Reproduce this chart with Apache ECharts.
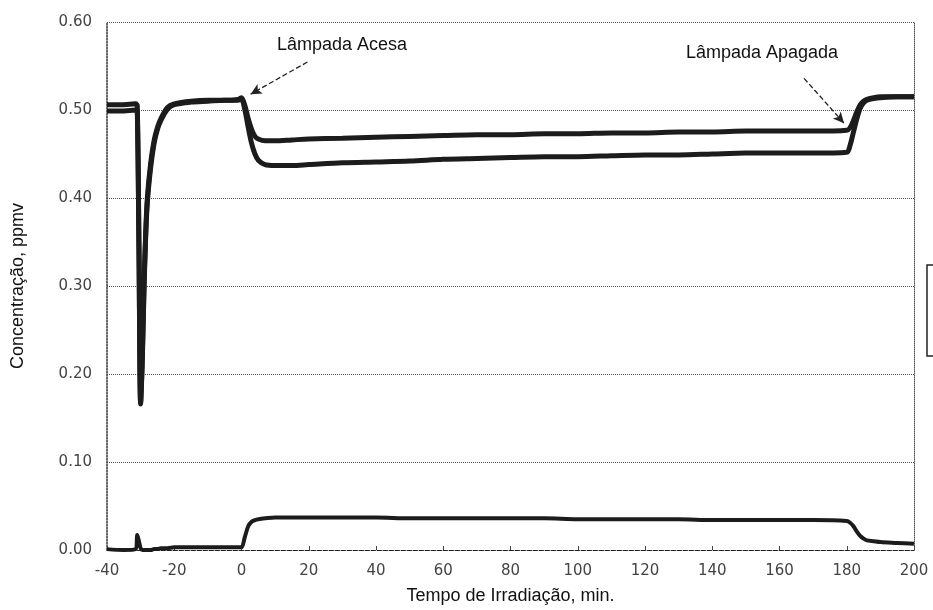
<!DOCTYPE html>
<html><head><meta charset="utf-8">
<script src="https://cdn.jsdelivr.net/npm/echarts@6/dist/echarts.min.js"></script>
<style>html,body{margin:0;padding:0;background:#fff}#c{width:933px;height:610px}</style>
</head><body><div id="c"></div>
<script>
const times = [-40,-35,-31.5,-31,-30.5,-30,-29.5,-29,-28.5,-28,-27,-26,-25,-24,-22,-20,-15,-10,-5,-1,0,1,2,3,4,5,7,10,15,20,30,40,50,60,70,80,90,100,110,120,130,140,150,160,170,180,181,182,183,184,185,186,188,190,195,200];
const upper = [0.506,0.506,0.507,0.505,0.35,0.168,0.22,0.30,0.36,0.40,0.44,0.465,0.48,0.49,0.503,0.507,0.510,0.511,0.511,0.512,0.514,0.505,0.49,0.478,0.470,0.467,0.465,0.465,0.466,0.467,0.468,0.469,0.470,0.471,0.472,0.472,0.473,0.473,0.474,0.474,0.475,0.475,0.476,0.476,0.476,0.477,0.480,0.488,0.498,0.506,0.510,0.512,0.514,0.515,0.515,0.515];
const lower = [0.499,0.499,0.500,0.499,0.34,0.166,0.215,0.295,0.355,0.395,0.435,0.462,0.478,0.488,0.501,0.506,0.509,0.510,0.511,0.511,0.512,0.500,0.480,0.462,0.450,0.443,0.438,0.437,0.437,0.438,0.440,0.441,0.442,0.444,0.445,0.446,0.447,0.447,0.448,0.449,0.449,0.450,0.451,0.451,0.451,0.452,0.460,0.475,0.490,0.502,0.508,0.511,0.513,0.514,0.515,0.515];
const bottom = [0.001,0.000,0.001,0.017,0.010,0.002,0.000,0.000,0.000,0.000,0.000,0.001,0.001,0.002,0.002,0.003,0.003,0.003,0.003,0.003,0.003,0.015,0.027,0.032,0.034,0.035,0.036,0.037,0.037,0.037,0.037,0.037,0.036,0.036,0.036,0.036,0.036,0.035,0.035,0.035,0.035,0.034,0.034,0.034,0.034,0.033,0.031,0.027,0.021,0.016,0.013,0.011,0.010,0.009,0.008,0.007];
const xTicks = {min:-40, max:200, step:20};
const yTicks = {min:0, max:0.6, step:0.1};
const annotations = [
  {text:'Lâmpada Acesa', from:[19.6,0.5545], to:[2.7,0.518]},
  {text:'Lâmpada Apagada', from:[167.3,0.536], to:[179.2,0.485]}
];
const pair = arr => times.map((t,i)=>[t,arr[i]]);
const chart = echarts.init(document.getElementById('c'));
const lineS = {type:'line', showSymbol:false, smooth:0.3, lineStyle:{color:'#1c1c1c', width:5}, itemStyle:{color:'#1c1c1c'}, z:3};
const font = 'Liberation Sans, Arial, sans-serif';
const tickFont = 'DejaVu Sans, sans-serif';
chart.setOption({
  animation:false,
  grid:{left:107, right:19, top:22, bottom:60},
  xAxis:{type:'value', min:xTicks.min, max:xTicks.max, interval:xTicks.step,
    name:'Tempo de Irradiação, min.', nameLocation:'middle', nameGap:37,
    nameTextStyle:{fontFamily:font, fontSize:18, color:'#111'},
    axisLine:{lineStyle:{color:'#222', type:'dashed', width:1}},
    axisTick:{inside:true, length:4, lineStyle:{color:'#444'}},
    axisLabel:{fontFamily:tickFont, fontSize:15, color:'#444', margin:14},
    splitLine:{show:false}},
  yAxis:[{type:'value', min:yTicks.min, max:yTicks.max, interval:yTicks.step,
    name:'Concentração, ppmv', nameLocation:'middle', nameGap:80,
    nameTextStyle:{fontFamily:font, fontSize:18, color:'#111'},
    axisLine:{show:true, onZero:false, lineStyle:{color:'#333', type:'dotted', width:1.5}},
    axisTick:{show:false},
    axisLabel:{fontFamily:tickFont, fontSize:15, color:'#444', margin:15, formatter:v=>v.toFixed(2)},
    splitLine:{lineStyle:{color:'#555', type:'dotted', width:1}}},
   {type:'value', position:'right', min:yTicks.min, max:yTicks.max, interval:yTicks.step,
    axisLine:{show:true, onZero:false, lineStyle:{color:'#555', type:'dotted', width:1}},
    axisTick:{show:false}, axisLabel:{show:false}, splitLine:{show:false}}],
  series:[
    Object.assign({}, lineS, {name:'upper', data:pair(upper),
      markLine:{silent:true, symbol:['none','arrow'], symbolSize:[8,11], label:{show:false},
        lineStyle:{color:'#222', type:'dashed', width:1.3},
        data:annotations.map(a=>[{coord:a.from},{coord:a.to}])}}),
    Object.assign({}, lineS, {name:'lower', data:pair(lower)}),
    Object.assign({}, lineS, {name:'bottom', data:pair(bottom), lineStyle:{color:'#1c1c1c', width:4}})
  ],
  graphic:[
    {type:'text', left:277, top:36, style:{text:annotations[0].text, font:'18px '+font, fill:'#111'}},
    {type:'text', left:686, top:44, style:{text:annotations[1].text, font:'18px '+font, fill:'#111'}},
    {type:'rect', shape:{x:927, y:265, width:20, height:91}, style:{fill:'none', stroke:'#222', lineWidth:1.5}}
  ]
});
</script></body></html>
